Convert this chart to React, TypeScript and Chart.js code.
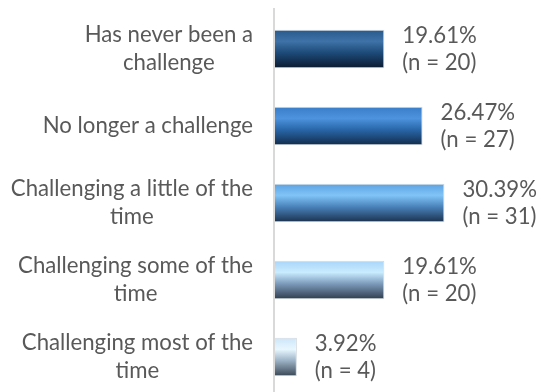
import React, { useEffect, useRef } from "react";
import { Chart, registerables } from "chart.js";

Chart.register(...registerables);

const categories: string[][] = [
  ["Has never been a", "challenge"],
  ["No longer a challenge"],
  ["Challenging a little of the", "time"],
  ["Challenging some of the", "time"],
  ["Challenging most of the", "time"],
];
const percents: number[] = [19.61, 26.47, 30.39, 19.61, 3.92];
const counts: number[] = [20, 27, 31, 20, 4];

const gradientStops: [number, string][][] = [
  [[0, "#2a5a8c"], [0.3, "#3f72a8"], [0.6, "#1d4a78"], [1, "#0a1b30"]],
  [[0, "#3a7dc8"], [0.3, "#4d93de"], [0.6, "#2866a8"], [1, "#122c4c"]],
  [[0, "#5ea3e2"], [0.3, "#80c4f7"], [0.6, "#4a82ba"], [1, "#1a324e"]],
  [[0, "#a9d5f8"], [0.3, "#c9ecff"], [0.6, "#7c9aba"], [1, "#2e3d4e"]],
  [[0, "#cde6f8"], [0.3, "#e8f7ff"], [0.6, "#9bb1c5"], [1, "#394755"]],
];

const FONT = "Lato, 'Open Sans', sans-serif";
const TEXT_COLOR = "#595959";

const labelPlugin = {
  id: "customLabels",
  afterDraw(chart: any) {
    const ctx = chart.ctx;
    const yScale = chart.scales.y;
    const xScale = chart.scales.x;
    const area = chart.chartArea;
    ctx.save();
    // axis line
    ctx.strokeStyle = "#d9d9d9";
    ctx.lineWidth = 2;
    ctx.beginPath();
    ctx.moveTo(area.left - 1, 8);
    ctx.lineTo(area.left - 1, chart.height);
    ctx.stroke();

    ctx.font = `22.2px ${FONT}`;
    ctx.fillStyle = TEXT_COLOR;
    ctx.textBaseline = "middle";
    const lineH = 28;
    const rightEdge = 253;
    categories.forEach((lines, i) => {
      const cy = yScale.getPixelForValue(i);
      const maxW = Math.max(...lines.map((l) => ctx.measureText(l).width));
      const cx = rightEdge - maxW / 2;
      ctx.textAlign = "center";
      const startY = cy - ((lines.length - 1) * lineH) / 2;
      lines.forEach((l, j) => ctx.fillText(l, cx, startY + j * lineH));
    });

    ctx.textAlign = "left";
    percents.forEach((v, i) => {
      const cy = yScale.getPixelForValue(i);
      const x = xScale.getPixelForValue(v) + 18;
      ctx.fillText(v.toFixed(2) + "%", x, cy - 13);
      ctx.fillText(`(n = ${counts[i]})`, x, cy + 14);
    });
    ctx.restore();
  },
};

export default function App() {
  const ref = useRef<HTMLCanvasElement>(null);
  useEffect(() => {
    if (!ref.current) return;
    const chart = new Chart(ref.current, {
      type: "bar",
      data: {
        labels: categories.map((c) => c.join(" ")),
        datasets: [
          {
            data: percents,
            backgroundColor: (c: any) => {
              const chartObj = c.chart;
              const y = chartObj.scales?.y;
              if (!chartObj.chartArea || !y || c.dataIndex === undefined) return gradientStops[0][0][1];
              const cy = y.getPixelForValue(c.dataIndex);
              const half = 19;
              const g = chartObj.ctx.createLinearGradient(0, cy - half, 0, cy + half);
              gradientStops[c.dataIndex].forEach(([o, col]) => g.addColorStop(o, col));
              return g;
            },
            borderColor: "rgba(190,200,210,0.7)",
            borderWidth: 1,
            categoryPercentage: 1,
            barPercentage: 0.5,
          },
        ],
      },
      options: {
        indexAxis: "y",
        animation: false,
        responsive: false,
        maintainAspectRatio: false,
        layout: { padding: { top: 10.5, bottom: 4.5, right: 41, left: 0 } },
        plugins: { legend: { display: false }, tooltip: { enabled: false } },
        scales: {
          x: { min: 0, max: 40, display: false },
          y: {
            display: true,
            ticks: { display: false },
            grid: { display: false },
            border: { display: false },
            afterFit: (s: any) => {
              s.width = 275;
            },
          },
        },
      },
      plugins: [labelPlugin],
    });
    return () => chart.destroy();
  }, []);
  return (
    <div style={{ position: "fixed", left: 0, top: 0, width: 539, height: 392, overflow: "hidden", background: "#fff" }}>
      <canvas ref={ref} width={539} height={400} style={{ width: 539, height: 400, display: "block" }} />
    </div>
  );
}
